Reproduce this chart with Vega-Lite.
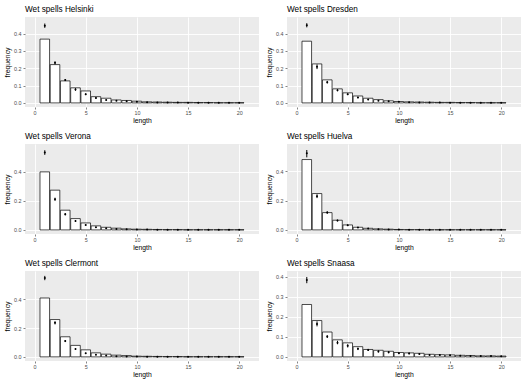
{
  "$schema": "https://vega.github.io/schema/vega-lite/v6.json",
  "padding": {"left": 4, "top": 4, "right": 0, "bottom": 0},
  "background": "white",
  "config": {
    "font": "Liberation Sans",
    "view": {"fill": "#EBEBEB", "stroke": null},
    "axis": {
      "domain": false, "gridColor": "white", "gridWidth": 0.9, "tickColor": "#333333", "tickWidth": 0.6, "tickSize": 2,
      "labelColor": "#4D4D4D", "labelFontSize": 5.4, "labelFont": "Liberation Sans",
      "titleFontSize": 6.8, "titleFontWeight": "normal", "titleColor": "black", "titleFont": "Liberation Sans"
    },
    "axisX": {"labelPadding": 1, "titlePadding": 2},
    "axisY": {"labelPadding": 2, "titlePadding": 3},
    "title": {"fontSize": 8.2, "fontWeight": "normal", "anchor": "start", "frame": "group", "color": "black", "offset": 3, "font": "Liberation Sans"}
  },
  "datasets": {
    "d": [
      {"c":"Helsinki","len":1,"f":0.368,"e":0.445,"lo":0.433,"hi":0.458},
      {"c":"Helsinki","len":2,"f":0.221,"e":0.231,"lo":0.222,"hi":0.240},
      {"c":"Helsinki","len":3,"f":0.127,"e":0.132,"lo":0.126,"hi":0.138},
      {"c":"Helsinki","len":4,"f":0.087,"e":0.077,"lo":0.070,"hi":0.085},
      {"c":"Helsinki","len":5,"f":0.069,"e":0.050,"lo":0.045,"hi":0.055},
      {"c":"Helsinki","len":6,"f":0.036,"e":0.029,"lo":0.025,"hi":0.033},
      {"c":"Helsinki","len":7,"f":0.027,"e":0.017,"lo":0.014,"hi":0.020},
      {"c":"Helsinki","len":8,"f":0.017,"e":0.012,"lo":0.010,"hi":0.014},
      {"c":"Helsinki","len":9,"f":0.014,"e":0.010,"lo":0.008,"hi":0.012},
      {"c":"Helsinki","len":10,"f":0.010,"e":0.007,"lo":0.005,"hi":0.009},
      {"c":"Helsinki","len":11,"f":0.006,"e":0.004,"lo":0.003,"hi":0.005},
      {"c":"Helsinki","len":12,"f":0.005,"e":0.003,"lo":0.002,"hi":0.004},
      {"c":"Helsinki","len":13,"f":0.004,"e":0.002,"lo":0.001,"hi":0.003},
      {"c":"Helsinki","len":14,"f":0.003,"e":0.002,"lo":0.001,"hi":0.003},
      {"c":"Helsinki","len":15,"f":0.003,"e":0.001,"lo":0.0005,"hi":0.002},
      {"c":"Helsinki","len":16,"f":0.002,"e":0.001,"lo":0.0005,"hi":0.002},
      {"c":"Helsinki","len":17,"f":0.002,"e":0.001,"lo":0.0005,"hi":0.002},
      {"c":"Helsinki","len":18,"f":0.001,"e":0.001,"lo":0.0005,"hi":0.0015},
      {"c":"Helsinki","len":19,"f":0.001,"e":0.0005,"lo":0.0002,"hi":0.001},
      {"c":"Helsinki","len":20,"f":0.001,"e":0.0005,"lo":0.0002,"hi":0.001},

      {"c":"Dresden","len":1,"f":0.356,"e":0.448,"lo":0.436,"hi":0.460},
      {"c":"Dresden","len":2,"f":0.225,"e":0.208,"lo":0.195,"hi":0.222},
      {"c":"Dresden","len":3,"f":0.133,"e":0.119,"lo":0.112,"hi":0.127},
      {"c":"Dresden","len":4,"f":0.081,"e":0.073,"lo":0.067,"hi":0.079},
      {"c":"Dresden","len":5,"f":0.058,"e":0.050,"lo":0.045,"hi":0.055},
      {"c":"Dresden","len":6,"f":0.040,"e":0.031,"lo":0.027,"hi":0.035},
      {"c":"Dresden","len":7,"f":0.027,"e":0.019,"lo":0.016,"hi":0.022},
      {"c":"Dresden","len":8,"f":0.019,"e":0.013,"lo":0.011,"hi":0.015},
      {"c":"Dresden","len":9,"f":0.012,"e":0.009,"lo":0.007,"hi":0.011},
      {"c":"Dresden","len":10,"f":0.008,"e":0.006,"lo":0.005,"hi":0.007},
      {"c":"Dresden","len":11,"f":0.006,"e":0.004,"lo":0.003,"hi":0.005},
      {"c":"Dresden","len":12,"f":0.005,"e":0.003,"lo":0.002,"hi":0.004},
      {"c":"Dresden","len":13,"f":0.004,"e":0.002,"lo":0.001,"hi":0.003},
      {"c":"Dresden","len":14,"f":0.003,"e":0.002,"lo":0.001,"hi":0.003},
      {"c":"Dresden","len":15,"f":0.003,"e":0.001,"lo":0.0005,"hi":0.002},
      {"c":"Dresden","len":16,"f":0.002,"e":0.001,"lo":0.0005,"hi":0.002},
      {"c":"Dresden","len":17,"f":0.002,"e":0.001,"lo":0.0005,"hi":0.002},
      {"c":"Dresden","len":18,"f":0.001,"e":0.001,"lo":0.0005,"hi":0.0015},
      {"c":"Dresden","len":19,"f":0.001,"e":0.0005,"lo":0.0002,"hi":0.001},
      {"c":"Dresden","len":20,"f":0.001,"e":0.0005,"lo":0.0002,"hi":0.001},

      {"c":"Verona","len":1,"f":0.400,"e":0.533,"lo":0.517,"hi":0.549},
      {"c":"Verona","len":2,"f":0.274,"e":0.211,"lo":0.200,"hi":0.222},
      {"c":"Verona","len":3,"f":0.136,"e":0.108,"lo":0.100,"hi":0.116},
      {"c":"Verona","len":4,"f":0.078,"e":0.062,"lo":0.056,"hi":0.068},
      {"c":"Verona","len":5,"f":0.048,"e":0.034,"lo":0.030,"hi":0.038},
      {"c":"Verona","len":6,"f":0.028,"e":0.018,"lo":0.015,"hi":0.021},
      {"c":"Verona","len":7,"f":0.018,"e":0.011,"lo":0.009,"hi":0.013},
      {"c":"Verona","len":8,"f":0.012,"e":0.007,"lo":0.005,"hi":0.009},
      {"c":"Verona","len":9,"f":0.007,"e":0.004,"lo":0.003,"hi":0.005},
      {"c":"Verona","len":10,"f":0.005,"e":0.003,"lo":0.002,"hi":0.004},
      {"c":"Verona","len":11,"f":0.004,"e":0.002,"lo":0.001,"hi":0.003},
      {"c":"Verona","len":12,"f":0.003,"e":0.001,"lo":0.0005,"hi":0.002},
      {"c":"Verona","len":13,"f":0.002,"e":0.001,"lo":0.0005,"hi":0.002},
      {"c":"Verona","len":14,"f":0.002,"e":0.001,"lo":0.0005,"hi":0.0015},
      {"c":"Verona","len":15,"f":0.001,"e":0.0005,"lo":0.0002,"hi":0.001},
      {"c":"Verona","len":16,"f":0.001,"e":0.0005,"lo":0.0002,"hi":0.001},
      {"c":"Verona","len":17,"f":0.001,"e":0.0005,"lo":0.0002,"hi":0.001},
      {"c":"Verona","len":18,"f":0.001,"e":0.0005,"lo":0.0002,"hi":0.001},
      {"c":"Verona","len":19,"f":0.001,"e":0.0005,"lo":0.0002,"hi":0.001},
      {"c":"Verona","len":20,"f":0.001,"e":0.0005,"lo":0.0002,"hi":0.001},

      {"c":"Huelva","len":1,"f":0.480,"e":0.523,"lo":0.495,"hi":0.545},
      {"c":"Huelva","len":2,"f":0.248,"e":0.230,"lo":0.217,"hi":0.243},
      {"c":"Huelva","len":3,"f":0.118,"e":0.118,"lo":0.110,"hi":0.127},
      {"c":"Huelva","len":4,"f":0.066,"e":0.064,"lo":0.058,"hi":0.070},
      {"c":"Huelva","len":5,"f":0.034,"e":0.032,"lo":0.028,"hi":0.036},
      {"c":"Huelva","len":6,"f":0.018,"e":0.016,"lo":0.013,"hi":0.019},
      {"c":"Huelva","len":7,"f":0.011,"e":0.009,"lo":0.007,"hi":0.011},
      {"c":"Huelva","len":8,"f":0.007,"e":0.005,"lo":0.004,"hi":0.006},
      {"c":"Huelva","len":9,"f":0.005,"e":0.003,"lo":0.002,"hi":0.004},
      {"c":"Huelva","len":10,"f":0.003,"e":0.002,"lo":0.001,"hi":0.003},
      {"c":"Huelva","len":11,"f":0.002,"e":0.001,"lo":0.0005,"hi":0.002},
      {"c":"Huelva","len":12,"f":0.002,"e":0.001,"lo":0.0005,"hi":0.0015},
      {"c":"Huelva","len":13,"f":0.001,"e":0.0005,"lo":0.0002,"hi":0.001},
      {"c":"Huelva","len":14,"f":0.001,"e":0.0005,"lo":0.0002,"hi":0.001},
      {"c":"Huelva","len":15,"f":0.001,"e":0.0005,"lo":0.0002,"hi":0.001},
      {"c":"Huelva","len":16,"f":0.001,"e":0.0005,"lo":0.0002,"hi":0.001},
      {"c":"Huelva","len":17,"f":0.001,"e":0.0005,"lo":0.0002,"hi":0.001},
      {"c":"Huelva","len":18,"f":0.001,"e":0.0005,"lo":0.0002,"hi":0.001},
      {"c":"Huelva","len":19,"f":0.001,"e":0.0005,"lo":0.0002,"hi":0.001},
      {"c":"Huelva","len":20,"f":0.001,"e":0.0005,"lo":0.0002,"hi":0.001},

      {"c":"Clermont","len":1,"f":0.410,"e":0.550,"lo":0.534,"hi":0.564},
      {"c":"Clermont","len":2,"f":0.260,"e":0.237,"lo":0.226,"hi":0.248},
      {"c":"Clermont","len":3,"f":0.140,"e":0.110,"lo":0.103,"hi":0.117},
      {"c":"Clermont","len":4,"f":0.080,"e":0.054,"lo":0.049,"hi":0.059},
      {"c":"Clermont","len":5,"f":0.049,"e":0.026,"lo":0.023,"hi":0.029},
      {"c":"Clermont","len":6,"f":0.028,"e":0.014,"lo":0.012,"hi":0.016},
      {"c":"Clermont","len":7,"f":0.019,"e":0.009,"lo":0.007,"hi":0.011},
      {"c":"Clermont","len":8,"f":0.012,"e":0.005,"lo":0.004,"hi":0.006},
      {"c":"Clermont","len":9,"f":0.009,"e":0.003,"lo":0.002,"hi":0.004},
      {"c":"Clermont","len":10,"f":0.005,"e":0.002,"lo":0.001,"hi":0.003},
      {"c":"Clermont","len":11,"f":0.004,"e":0.001,"lo":0.0005,"hi":0.002},
      {"c":"Clermont","len":12,"f":0.003,"e":0.001,"lo":0.0005,"hi":0.0015},
      {"c":"Clermont","len":13,"f":0.002,"e":0.0005,"lo":0.0002,"hi":0.001},
      {"c":"Clermont","len":14,"f":0.002,"e":0.0005,"lo":0.0002,"hi":0.001},
      {"c":"Clermont","len":15,"f":0.001,"e":0.0005,"lo":0.0002,"hi":0.001},
      {"c":"Clermont","len":16,"f":0.001,"e":0.0005,"lo":0.0002,"hi":0.001},
      {"c":"Clermont","len":17,"f":0.001,"e":0.0005,"lo":0.0002,"hi":0.001},
      {"c":"Clermont","len":18,"f":0.001,"e":0.0005,"lo":0.0002,"hi":0.001},
      {"c":"Clermont","len":19,"f":0.001,"e":0.0005,"lo":0.0002,"hi":0.001},
      {"c":"Clermont","len":20,"f":0.001,"e":0.0005,"lo":0.0002,"hi":0.001},

      {"c":"Snaasa","len":1,"f":0.261,"e":0.383,"lo":0.367,"hi":0.398},
      {"c":"Snaasa","len":2,"f":0.181,"e":0.164,"lo":0.152,"hi":0.177},
      {"c":"Snaasa","len":3,"f":0.124,"e":0.101,"lo":0.094,"hi":0.108},
      {"c":"Snaasa","len":4,"f":0.085,"e":0.071,"lo":0.063,"hi":0.080},
      {"c":"Snaasa","len":5,"f":0.070,"e":0.055,"lo":0.047,"hi":0.063},
      {"c":"Snaasa","len":6,"f":0.051,"e":0.040,"lo":0.034,"hi":0.046},
      {"c":"Snaasa","len":7,"f":0.037,"e":0.035,"lo":0.030,"hi":0.040},
      {"c":"Snaasa","len":8,"f":0.033,"e":0.027,"lo":0.022,"hi":0.032},
      {"c":"Snaasa","len":9,"f":0.028,"e":0.023,"lo":0.018,"hi":0.028},
      {"c":"Snaasa","len":10,"f":0.022,"e":0.018,"lo":0.014,"hi":0.022},
      {"c":"Snaasa","len":11,"f":0.020,"e":0.017,"lo":0.013,"hi":0.021},
      {"c":"Snaasa","len":12,"f":0.018,"e":0.015,"lo":0.011,"hi":0.019},
      {"c":"Snaasa","len":13,"f":0.013,"e":0.010,"lo":0.007,"hi":0.013},
      {"c":"Snaasa","len":14,"f":0.011,"e":0.009,"lo":0.006,"hi":0.012},
      {"c":"Snaasa","len":15,"f":0.010,"e":0.008,"lo":0.005,"hi":0.011},
      {"c":"Snaasa","len":16,"f":0.008,"e":0.006,"lo":0.004,"hi":0.008},
      {"c":"Snaasa","len":17,"f":0.007,"e":0.005,"lo":0.003,"hi":0.007},
      {"c":"Snaasa","len":18,"f":0.005,"e":0.004,"lo":0.002,"hi":0.006},
      {"c":"Snaasa","len":19,"f":0.005,"e":0.004,"lo":0.002,"hi":0.006},
      {"c":"Snaasa","len":20,"f":0.004,"e":0.003,"lo":0.001,"hi":0.005}
    ]
  },
  "columns": 2,
  "bounds": "flush",
  "spacing": {"row": 37, "column": 28},
  "concat": [
    {
      "title": "Wet spells Helsinki", "width": 234, "height": 90,
      "data": {"name": "d"}, "transform": [{"filter": "datum.c === 'Helsinki'"}],
      "resolve": {"axis": {"x": "independent", "y": "independent"}},
      "layer": [
        {"mark": {"type": "bar", "fill": "white", "stroke": "black", "strokeWidth": 0.7, "width": 9.6},
         "encoding": {
           "x": {"field": "len", "type": "quantitative", "title": "length", "scale": {"domain": [-0.445, 21.445], "nice": false, "zero": false}, "axis": {"tickCount": 5, "orient": "bottom"}},
           "y": {"field": "f", "type": "quantitative", "title": "frequency", "scale": {"domain": [-0.0236, 0.4956], "nice": false, "zero": false}, "axis": {"tickCount": 5, "format": ".1f", "orient": "left"}},
           "y2": {"datum": 0}}},
        {"mark": {"type": "rule", "color": "black", "strokeWidth": 1},
         "encoding": {
           "x": {"field": "len", "type": "quantitative", "axis": {"values": [2.5,7.5,12.5,17.5], "orient": "bottom", "labels": false, "ticks": false, "title": null, "gridWidth": 0.45}},
           "y": {"field": "lo", "type": "quantitative", "axis": {"values": [0.05,0.15,0.25,0.35,0.45], "orient": "left", "labels": false, "ticks": false, "title": null, "gridWidth": 0.45}},
           "y2": {"field": "hi"}}},
        {"mark": {"type": "point", "filled": true, "size": 4, "color": "black", "opacity": 1},
         "encoding": {"x": {"field": "len", "type": "quantitative", "axis": null}, "y": {"field": "e", "type": "quantitative", "axis": null}}}
      ]
    },
    {
      "title": "Wet spells Dresden", "width": 234, "height": 90,
      "data": {"name": "d"}, "transform": [{"filter": "datum.c === 'Dresden'"}],
      "resolve": {"axis": {"x": "independent", "y": "independent"}},
      "layer": [
        {"mark": {"type": "bar", "fill": "white", "stroke": "black", "strokeWidth": 0.7, "width": 9.6},
         "encoding": {
           "x": {"field": "len", "type": "quantitative", "title": "length", "scale": {"domain": [-0.445, 21.445], "nice": false, "zero": false}, "axis": {"tickCount": 5, "orient": "bottom"}},
           "y": {"field": "f", "type": "quantitative", "title": "frequency", "scale": {"domain": [-0.0236, 0.4956], "nice": false, "zero": false}, "axis": {"tickCount": 5, "format": ".1f", "orient": "left"}},
           "y2": {"datum": 0}}},
        {"mark": {"type": "rule", "color": "black", "strokeWidth": 1},
         "encoding": {
           "x": {"field": "len", "type": "quantitative", "axis": {"values": [2.5,7.5,12.5,17.5], "orient": "bottom", "labels": false, "ticks": false, "title": null, "gridWidth": 0.45}},
           "y": {"field": "lo", "type": "quantitative", "axis": {"values": [0.05,0.15,0.25,0.35,0.45], "orient": "left", "labels": false, "ticks": false, "title": null, "gridWidth": 0.45}},
           "y2": {"field": "hi"}}},
        {"mark": {"type": "point", "filled": true, "size": 4, "color": "black", "opacity": 1},
         "encoding": {"x": {"field": "len", "type": "quantitative", "axis": null}, "y": {"field": "e", "type": "quantitative", "axis": null}}}
      ]
    },
    {
      "title": "Wet spells Verona", "width": 234, "height": 90,
      "data": {"name": "d"}, "transform": [{"filter": "datum.c === 'Verona'"}],
      "resolve": {"axis": {"x": "independent", "y": "independent"}},
      "layer": [
        {"mark": {"type": "bar", "fill": "white", "stroke": "black", "strokeWidth": 0.7, "width": 9.6},
         "encoding": {
           "x": {"field": "len", "type": "quantitative", "title": "length", "scale": {"domain": [-0.445, 21.445], "nice": false, "zero": false}, "axis": {"tickCount": 5, "orient": "bottom"}},
           "y": {"field": "f", "type": "quantitative", "title": "frequency", "scale": {"domain": [-0.0282, 0.592], "nice": false, "zero": false}, "axis": {"tickCount": 3, "format": ".1f", "orient": "left"}},
           "y2": {"datum": 0}}},
        {"mark": {"type": "rule", "color": "black", "strokeWidth": 1},
         "encoding": {
           "x": {"field": "len", "type": "quantitative", "axis": {"values": [2.5,7.5,12.5,17.5], "orient": "bottom", "labels": false, "ticks": false, "title": null, "gridWidth": 0.45}},
           "y": {"field": "lo", "type": "quantitative", "axis": {"values": [0.1,0.3,0.5], "orient": "left", "labels": false, "ticks": false, "title": null, "gridWidth": 0.45}},
           "y2": {"field": "hi"}}},
        {"mark": {"type": "point", "filled": true, "size": 4, "color": "black", "opacity": 1},
         "encoding": {"x": {"field": "len", "type": "quantitative", "axis": null}, "y": {"field": "e", "type": "quantitative", "axis": null}}}
      ]
    },
    {
      "title": "Wet spells Huelva", "width": 234, "height": 90,
      "data": {"name": "d"}, "transform": [{"filter": "datum.c === 'Huelva'"}],
      "resolve": {"axis": {"x": "independent", "y": "independent"}},
      "layer": [
        {"mark": {"type": "bar", "fill": "white", "stroke": "black", "strokeWidth": 0.7, "width": 9.6},
         "encoding": {
           "x": {"field": "len", "type": "quantitative", "title": "length", "scale": {"domain": [-0.445, 21.445], "nice": false, "zero": false}, "axis": {"tickCount": 5, "orient": "bottom"}},
           "y": {"field": "f", "type": "quantitative", "title": "frequency", "scale": {"domain": [-0.0279, 0.586], "nice": false, "zero": false}, "axis": {"tickCount": 3, "format": ".1f", "orient": "left"}},
           "y2": {"datum": 0}}},
        {"mark": {"type": "rule", "color": "black", "strokeWidth": 1},
         "encoding": {
           "x": {"field": "len", "type": "quantitative", "axis": {"values": [2.5,7.5,12.5,17.5], "orient": "bottom", "labels": false, "ticks": false, "title": null, "gridWidth": 0.45}},
           "y": {"field": "lo", "type": "quantitative", "axis": {"values": [0.1,0.3,0.5], "orient": "left", "labels": false, "ticks": false, "title": null, "gridWidth": 0.45}},
           "y2": {"field": "hi"}}},
        {"mark": {"type": "point", "filled": true, "size": 4, "color": "black", "opacity": 1},
         "encoding": {"x": {"field": "len", "type": "quantitative", "axis": null}, "y": {"field": "e", "type": "quantitative", "axis": null}}}
      ]
    },
    {
      "title": "Wet spells Clermont", "width": 234, "height": 90,
      "data": {"name": "d"}, "transform": [{"filter": "datum.c === 'Clermont'"}],
      "resolve": {"axis": {"x": "independent", "y": "independent"}},
      "layer": [
        {"mark": {"type": "bar", "fill": "white", "stroke": "black", "strokeWidth": 0.7, "width": 9.6},
         "encoding": {
           "x": {"field": "len", "type": "quantitative", "title": "length", "scale": {"domain": [-0.445, 21.445], "nice": false, "zero": false}, "axis": {"tickCount": 5, "orient": "bottom"}},
           "y": {"field": "f", "type": "quantitative", "title": "frequency", "scale": {"domain": [-0.0287, 0.598], "nice": false, "zero": false}, "axis": {"tickCount": 3, "format": ".1f", "orient": "left"}},
           "y2": {"datum": 0}}},
        {"mark": {"type": "rule", "color": "black", "strokeWidth": 1},
         "encoding": {
           "x": {"field": "len", "type": "quantitative", "axis": {"values": [2.5,7.5,12.5,17.5], "orient": "bottom", "labels": false, "ticks": false, "title": null, "gridWidth": 0.45}},
           "y": {"field": "lo", "type": "quantitative", "axis": {"values": [0.1,0.3,0.5], "orient": "left", "labels": false, "ticks": false, "title": null, "gridWidth": 0.45}},
           "y2": {"field": "hi"}}},
        {"mark": {"type": "point", "filled": true, "size": 4, "color": "black", "opacity": 1},
         "encoding": {"x": {"field": "len", "type": "quantitative", "axis": null}, "y": {"field": "e", "type": "quantitative", "axis": null}}}
      ]
    },
    {
      "title": "Wet spells Snaasa", "width": 234, "height": 90,
      "data": {"name": "d"}, "transform": [{"filter": "datum.c === 'Snaasa'"}],
      "resolve": {"axis": {"x": "independent", "y": "independent"}},
      "layer": [
        {"mark": {"type": "bar", "fill": "white", "stroke": "black", "strokeWidth": 0.7, "width": 9.6},
         "encoding": {
           "x": {"field": "len", "type": "quantitative", "title": "length", "scale": {"domain": [-0.445, 21.445], "nice": false, "zero": false}, "axis": {"tickCount": 5, "orient": "bottom"}},
           "y": {"field": "f", "type": "quantitative", "title": "frequency", "scale": {"domain": [-0.0204, 0.4278], "nice": false, "zero": false}, "axis": {"tickCount": 5, "format": ".1f", "orient": "left"}},
           "y2": {"datum": 0}}},
        {"mark": {"type": "rule", "color": "black", "strokeWidth": 1},
         "encoding": {
           "x": {"field": "len", "type": "quantitative", "axis": {"values": [2.5,7.5,12.5,17.5], "orient": "bottom", "labels": false, "ticks": false, "title": null, "gridWidth": 0.45}},
           "y": {"field": "lo", "type": "quantitative", "axis": {"values": [0.05,0.15,0.25,0.35], "orient": "left", "labels": false, "ticks": false, "title": null, "gridWidth": 0.45}},
           "y2": {"field": "hi"}}},
        {"mark": {"type": "point", "filled": true, "size": 4, "color": "black", "opacity": 1},
         "encoding": {"x": {"field": "len", "type": "quantitative", "axis": null}, "y": {"field": "e", "type": "quantitative", "axis": null}}}
      ]
    }
  ]
}
